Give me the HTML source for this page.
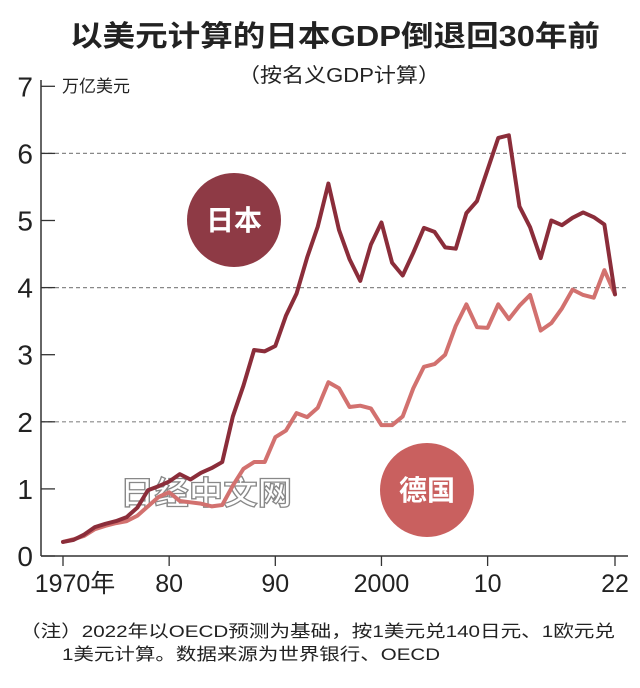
<!DOCTYPE html>
<html><head><meta charset="utf-8"><style>
body{margin:0;background:#fff;}
svg text{font-family:"Liberation Sans","Noto Sans CJK SC",sans-serif;}
</style></head><body>
<svg width="640" height="683" viewBox="0 0 640 683">
<text x="70" y="46" textLength="530" lengthAdjust="spacingAndGlyphs" font-size="29" font-weight="bold" fill="#222">以美元计算的日本GDP倒退回30年前</text>
<text x="238" y="82" textLength="202" lengthAdjust="spacingAndGlyphs" font-size="20" fill="#222">（按名义GDP计算）</text>
<text x="62" y="92" font-size="17" fill="#222">万亿美元</text>
<g id="grid"></g>
<g id="axes"></g>
<text x="120" y="504" textLength="172" lengthAdjust="spacingAndGlyphs" font-size="32" font-weight="bold" fill="#fff" stroke="#888" stroke-width="1.3">日经中文网</text>
<g id="series"></g>
<circle cx="234" cy="220" r="47" fill="#8e3a45"/>
<text x="234" y="230" text-anchor="middle" font-size="28" font-weight="bold" fill="#fff">日本</text>
<circle cx="427" cy="490" r="47" fill="#c9605f"/>
<text x="427" y="500" text-anchor="middle" font-size="28" font-weight="bold" fill="#fff">德国</text>
<text x="20" y="637" textLength="595" lengthAdjust="spacingAndGlyphs" font-size="17" fill="#222">（注）2022年以OECD预测为基础，按1美元兑140日元、1欧元兑</text>
<text x="62" y="660" textLength="378" lengthAdjust="spacingAndGlyphs" font-size="17" fill="#222">1美元计算。数据来源为世界银行、OECD</text>
</svg>
<script>
const years=[];for(let y=1970;y<=2022;y++)years.push(y);
const japan=[0.21,0.24,0.32,0.43,0.48,0.52,0.58,0.72,0.98,1.04,1.11,1.22,1.14,1.24,1.31,1.40,2.08,2.54,3.07,3.05,3.13,3.58,3.91,4.45,4.91,5.55,4.86,4.42,4.10,4.64,4.97,4.37,4.18,4.52,4.89,4.83,4.60,4.58,5.11,5.29,5.76,6.23,6.27,5.21,4.90,4.44,5.00,4.93,5.04,5.12,5.05,4.94,3.90];
const germany=[0.21,0.25,0.30,0.40,0.45,0.49,0.52,0.60,0.74,0.88,0.95,0.82,0.80,0.78,0.74,0.76,1.05,1.30,1.40,1.40,1.77,1.87,2.13,2.07,2.21,2.59,2.50,2.22,2.24,2.20,1.95,1.95,2.08,2.50,2.82,2.86,3.00,3.43,3.75,3.41,3.40,3.75,3.53,3.73,3.89,3.36,3.47,3.69,3.97,3.89,3.85,4.26,3.90];
const yTicks=[0,1,2,3,4,5,6,7];
const gridVals=[2,4,6];
const xTicks=[1970,1980,1990,2000,2010,2022];
const xLabels=["1970年","80","90","2000","10","22"];
const NS="http://www.w3.org/2000/svg";
const X=y=>63+(y-1970)*(552/52);
const Y=v=>556-v*67.1;
function mk(t,a,p){const e=document.createElementNS(NS,t);for(const k in a)e.setAttribute(k,a[k]);p.appendChild(e);return e;}
const grid=document.getElementById('grid'),axes=document.getElementById('axes'),ser=document.getElementById('series');
gridVals.forEach(v=>{const l=mk('line',{x1:41,x2:628,y1:Y(v),y2:Y(v),stroke:'#888','stroke-width':1.2,'stroke-dasharray':'4,3'},grid);

});
let a=mk('line',{x1:41,x2:41,y1:80,y2:556,stroke:'#333','stroke-width':1.5},axes);


a=mk('line',{x1:41,x2:628,y1:556,y2:556,stroke:'#333','stroke-width':1.5},axes);


yTicks.forEach(v=>{mk('line',{x1:41,x2:55,y1:Y(v),y2:Y(v),stroke:'#333','stroke-width':1.3},axes);
const t=mk('text',{x:33,y:Y(v)+10,'text-anchor':'end','font-size':28,fill:'#222'},axes);t.textContent=v;

});
xTicks.forEach((y,i)=>{mk('line',{x1:X(y),x2:X(y),y1:556,y2:566,stroke:'#333','stroke-width':1.3},axes);
const t=mk('text',{x:X(y)+(i==0?12:0),y:592,'text-anchor':'middle','font-size':25,fill:'#222'},axes);t.textContent=xLabels[i];

});
function line(d,c,n){const p=mk('polyline',{points:d.map((v,i)=>X(years[i])+','+Y(v)).join(' '),fill:'none',stroke:c,'stroke-width':4,'stroke-linejoin':'round','stroke-linecap':'round'},ser);

}
line(germany,'#d2716f','germany-line');
line(japan,'#8b2d3a','japan-line');
</script>
</body></html>
